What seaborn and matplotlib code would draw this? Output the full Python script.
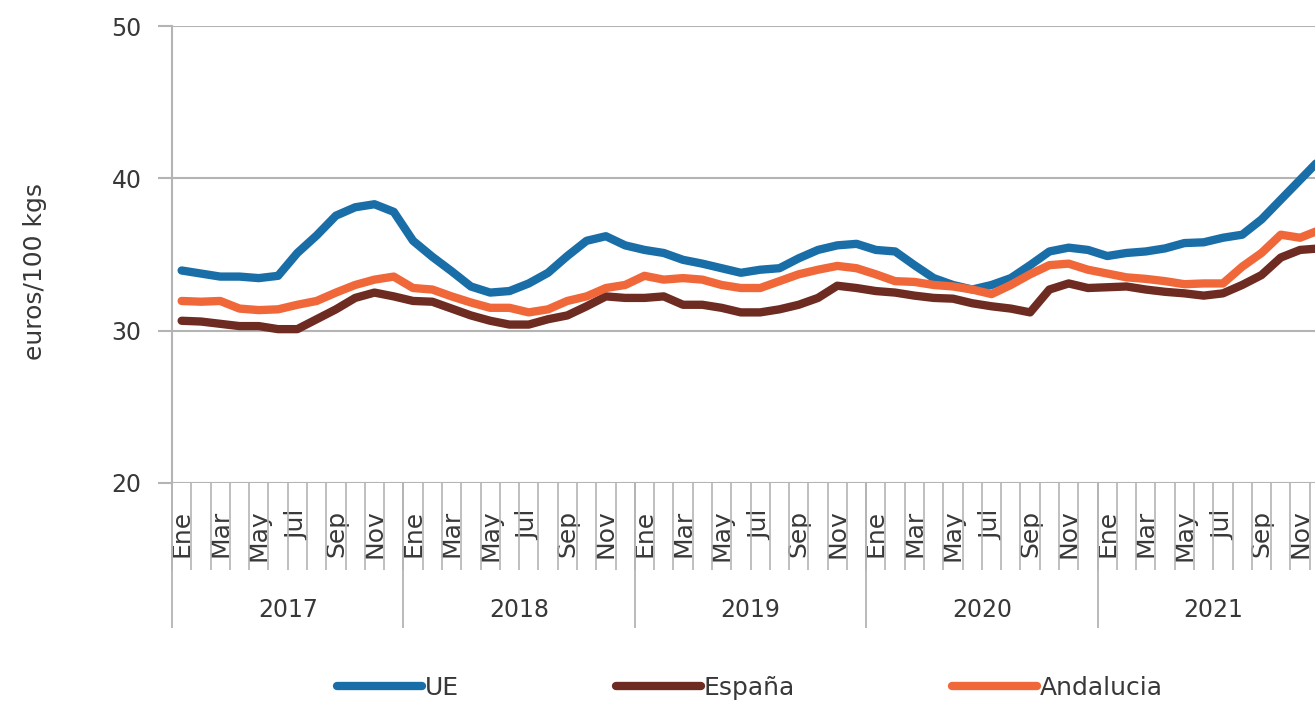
import numpy as np
import pandas as pd
import seaborn as sns
import matplotlib.pyplot as plt

# monthly prices, euros/100 kgs, Ene 2017 - Dic 2021
years = ['2017', '2018', '2019', '2020', '2021']
months = ['Ene', 'Feb', 'Mar', 'Abr', 'May', 'Jun', 'Jul', 'Ago', 'Sep', 'Oct', 'Nov', 'Dic']

ue = [33.95, 33.75, 33.55, 33.55, 33.45, 33.6, 35.1, 36.25, 37.55, 38.1, 38.3, 37.8,
      35.9, 34.85, 33.9, 32.9, 32.5, 32.6, 33.1, 33.8, 34.9, 35.9, 36.2, 35.6,
      35.3, 35.1, 34.65, 34.4, 34.1, 33.8, 34.0, 34.1, 34.75, 35.3, 35.6, 35.7,
      35.3, 35.2, 34.3, 33.45, 33.0, 32.7, 33.0, 33.45, 34.3, 35.2, 35.45, 35.3,
      34.9, 35.1, 35.2, 35.4, 35.75, 35.8, 36.1, 36.3, 37.3, 38.6, 39.9, 41.2]
espana = [30.65, 30.6, 30.45, 30.3, 30.3, 30.1, 30.1, 30.75, 31.4, 32.15, 32.5, 32.25,
          31.95, 31.9, 31.45, 31.0, 30.65, 30.4, 30.4, 30.75, 31.0, 31.6, 32.25, 32.15,
          32.15, 32.25, 31.7, 31.7, 31.5, 31.2, 31.2, 31.4, 31.7, 32.15, 32.95, 32.8,
          32.6, 32.5, 32.3, 32.15, 32.1, 31.8, 31.6, 31.45, 31.2, 32.7, 33.1, 32.8,
          32.85, 32.9, 32.7, 32.55, 32.45, 32.3, 32.45, 33.0, 33.65, 34.8, 35.3, 35.4]
andalucia = [31.95, 31.9, 31.95, 31.45, 31.35, 31.4, 31.7, 31.95, 32.5, 33.0, 33.35, 33.55,
             32.8, 32.7, 32.25, 31.85, 31.5, 31.5, 31.2, 31.4, 31.95, 32.25, 32.8, 33.0,
             33.6, 33.35, 33.45, 33.35, 33.0, 32.8, 32.8, 33.25, 33.7, 34.0, 34.25, 34.1,
             33.7, 33.25, 33.2, 33.0, 32.9, 32.7, 32.4, 33.0, 33.7, 34.3, 34.4, 34.0,
             33.75, 33.5, 33.4, 33.25, 33.05, 33.1, 33.1, 34.2, 35.1, 36.3, 36.1, 36.6]

series = ['UE', 'España', 'Andalucia']
colors = ['#1a6ea8', '#6e2b22', '#f0683a']

n = len(ue)
df = pd.DataFrame({
    'pos': np.tile(np.arange(n) + 0.5, 3),
    'valor': ue + espana + andalucia,
    'serie': np.repeat(series, n),
})

sns.set_style('white')
plt.rcParams['font.family'] = ['DejaVu Sans']
txt = '#383838'
grey = '#b4b4b4'

fig = plt.figure(figsize=(13.15, 7.02), dpi=100)
ax = fig.add_axes([172 / 1315, 1 - 483 / 702, (1329 - 172) / 1315, (483 - 26) / 702])

sns.lineplot(data=df, x='pos', y='valor', hue='serie', hue_order=series,
             palette=colors, linewidth=6, legend=False, ax=ax,
             solid_capstyle='round', solid_joinstyle='round')

ax.set_xlim(0, n)
ax.set_ylim(20, 50)
ax.set_yticks([20, 30, 40, 50])
ax.yaxis.grid(True, color=grey, linewidth=1.5)
ax.set_axisbelow(True)
for s in ['top', 'right', 'bottom']:
    ax.spines[s].set_visible(False)
ax.spines['left'].set_color(grey)
ax.spines['left'].set_linewidth(1.5)
ax.tick_params(axis='y', direction='out', length=10, width=1.5, color=grey,
               pad=12, labelsize=17, labelcolor=txt, left=True)

# category axis: boundary lines for months and years
bounds = np.arange(n + 1)
ax.set_xticks([])
ax.vlines(bounds, 0, -87 / 457, transform=ax.get_xaxis_transform(),
          color=grey, linewidth=1.2, clip_on=False)
ax.vlines(bounds[::12], 0, -145 / 457, transform=ax.get_xaxis_transform(),
          color=grey, linewidth=1.3, clip_on=False)

month_labels = [m if i % 2 == 0 else '' for i, m in enumerate(months)] * len(years)
ax.set_xticks(np.arange(n) + 0.5, minor=True)
ax.set_xticklabels(month_labels, minor=True, rotation=90)
ax.tick_params(axis='x', which='minor', length=0, pad=19, labelsize=18, labelcolor=txt)
ax.set_xlabel('')
ax.set_ylabel('')

for k, y in enumerate(years):
    ax.text(12 * k + 6, -127 / 457, y, transform=ax.get_xaxis_transform(),
            ha='center', va='center', fontsize=17, color=txt)

fig.text(35 / 1315, 1 - 272 / 702, 'euros/100 kgs', rotation=90,
         ha='center', va='center', fontsize=18, color=txt)

fig.legend(ax.lines[:3], series, loc='center', bbox_to_anchor=(750 / 1315, 1 - 688 / 702),
           ncol=3, frameon=False, fontsize=18, handlelength=3.4, handletextpad=0.1,
           columnspacing=6.3, labelcolor=txt)

fig.savefig('out.png', dpi=100)
